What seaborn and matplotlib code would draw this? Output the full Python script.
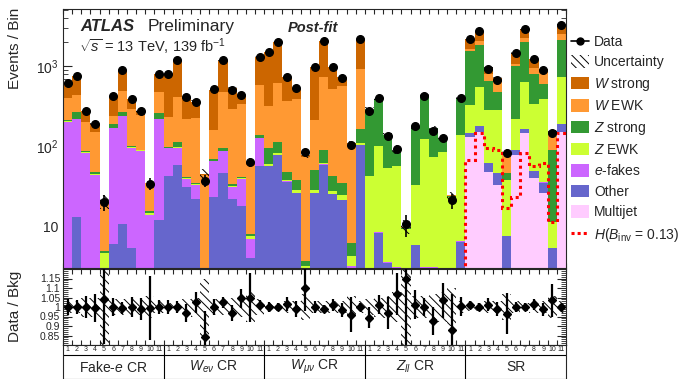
import numpy as np
import matplotlib
matplotlib.use("Agg")
import matplotlib.pyplot as plt
import matplotlib.ticker as mticker
from matplotlib.patches import Patch
from matplotlib.lines import Line2D
import seaborn as sns

# ---- data (11 bins per region) ----
regions = ["Fake-$e$ CR", r"$W_{e\nu}$ CR", r"$W_{\mu\nu}$ CR", r"$Z_{ll}$ CR", "SR"]
bin_labels = [str(i) for i in range(1, 12)] * 5

multijet = [0] * 44 + [132, 152, 48, 33, 0.5, 78, 145, 40, 26, 0.3, 152]
other = [2, 13, 3, 2.5, 0.5, 6, 10.7, 5.3, 3, 1, 12,
         43, 59, 31, 22, 0.5, 23, 46, 22, 17.7, 4, 56,
         56, 78, 36, 26, 2, 26, 59, 25, 21, 3, 104,
         2, 8.2, 3.5, 3, 1, 5.8, 3, 3, 2, 1, 6.4,
         16, 26, 14, 13.5, 7, 12, 17, 9, 9, 5, 40]
efakes = [200, 206, 80, 41, 0.5, 162, 227, 90, 84, 13, 204,
          52, 37, 8, 11, 0.3, 42, 40, 9, 21, 3, 70,
          0.5, 0.5, 0.3, 0.3, 0.2, 0.3, 0.5, 0.3, 0.3, 0.2, 0.5,
          0.2, 0.2, 0.1, 0.1, 0.1, 0.1, 0.1, 0.1, 0.1, 0.1, 0.2,
          0.2, 0.3, 0.2, 0.2, 0.1, 0.2, 0.3, 0.2, 0.2, 0.1, 0.3]
z_ewk = [2, 2, 1, 2, 3.6, 1, 1.5, 1.5, 1.5, 0.5, 1.5,
         1, 1, 1, 1, 0.3, 1, 1.5, 1, 1.5, 0.5, 2,
         3, 3, 1.5, 2, 1, 2, 2, 2, 3, 1, 4,
         40, 93, 50, 53, 8, 27, 119, 71, 82, 22, 130,
         182, 367, 219, 235, 30, 128, 466, 291, 356, 6, 533]
z_strong = [10, 50, 4, 2.5, 0.3, 22, 27, 5, 1.5, 0.8, 44.5,
            3, 17, 1.5, 0.5, 0.3, 4, 8, 1.5, 1.5, 0.5, 10,
            35, 30, 10, 10, 0.5, 22, 29, 15, 10, 2, 55,
            250, 290, 85, 31, 0.5, 142, 300, 93, 40, 1, 260,
            1220, 1325, 378, 200, 9, 792, 1370, 457, 209, 79, 1425]
w_ewk = [189, 160, 114, 101, 15, 51, 228, 193, 154, 19, 210,
         130, 296, 177, 194, 42, 88, 387, 255, 297, 51, 445,
         223, 510, 323, 346, 70, 160, 650, 476, 525, 100, 773,
         1, 1, 0.5, 0.5, 0.2, 0.5, 0.5, 0.5, 0.5, 0.3, 1,
         80, 180, 138, 146, 33, 50, 260, 166, 235, 52, 380]
w_strong = [218, 315, 74, 38, 0.5, 188, 396, 96, 29, 0.5, 324,
            570, 776, 192, 128, 1.5, 352, 677, 240, 91, 1, 717,
            1180, 1380, 370, 158, 3, 780, 1355, 460, 170, 2, 1264,
            0.5, 0.3, 0.2, 0.2, 0.1, 0.3, 0.3, 0.2, 0.2, 0.1, 0.5,
            570, 730, 166, 77, 4, 410, 640, 257, 100, 8, 770]
data = [611, 746, 276, 187, 20, 430, 892, 391, 273, 34, 796,
        796, 1186, 410, 356, 37, 520, 1186, 510, 443, 64, 1300,
        1500, 2000, 740, 535, 84, 990, 2070, 990, 720, 104, 2200,
        276, 397, 134, 93, 10.7, 178, 423, 156, 128, 21, 400,
        2200, 2780, 935, 680, 82, 1470, 2900, 1220, 900, 145, 3300]
higgs = [0.1] * 44 + [68, 145, 94, 90, 16.8, 23, 82, 56, 62, 11.2, 145]
ratio = [1.0, 1.0, 1.0, 0.995, 1.04, 1.0, 0.995, 1.0, 0.99, 0.995, 1.0,
         1.0, 1.0, 0.97, 1.025, 0.84, 1.0, 1.025, 0.97, 1.045, 1.05, 1.01,
         1.0, 1.0, 1.015, 0.99, 1.10, 1.0, 0.988, 1.012, 0.982, 0.96, 1.0,
         0.944, 1.012, 0.968, 1.067, 1.15, 1.012, 1.0, 0.926, 1.035, 0.877, 1.005,
         1.012, 1.0, 1.012, 0.99, 0.965, 1.0, 1.0, 1.014, 0.988, 1.035, 1.0]
bkg_unc = [0.03, 0.03, 0.05, 0.05, 0.2, 0.04, 0.04, 0.04, 0.04, 0.06, 0.03,
           0.02, 0.02, 0.04, 0.05, 0.15, 0.04, 0.04, 0.05, 0.05, 0.08, 0.04,
           0.02, 0.02, 0.03, 0.03, 0.07, 0.03, 0.03, 0.03, 0.03, 0.06, 0.03,
           0.04, 0.05, 0.06, 0.08, 0.2, 0.06, 0.06, 0.07, 0.08, 0.1, 0.03,
           0.02, 0.02, 0.03, 0.03, 0.07, 0.03, 0.02, 0.03, 0.03, 0.06, 0.03]

# stack order bottom -> top
stack = [("Multijet", multijet, "#ffccff"),
         ("Other", other, "#6666cc"),
         ("$e$-fakes", efakes, "#cc66ff"),
         ("$Z$ EWK", z_ewk, "#ccff33"),
         ("$Z$ strong", z_strong, "#339933"),
         ("$W$ EWK", w_ewk, "#ff9933"),
         ("$W$ strong", w_strong, "#cc6600")]

sns.set_style("ticks")
plt.rcParams["font.family"] = ["Liberation Sans", "DejaVu Sans"]
plt.rcParams["mathtext.fontset"] = "custom"
plt.rcParams["mathtext.rm"] = "Liberation Sans"
plt.rcParams["mathtext.it"] = "Liberation Sans:italic"
plt.rcParams["mathtext.bf"] = "Liberation Sans:bold"
plt.rcParams["hatch.linewidth"] = 0.7

x = np.arange(len(data))
edges = np.arange(len(data) + 1) - 0.5
data = np.array(data, dtype=float)
ratio = np.array(ratio)
bkg_unc = np.array(bkg_unc)

fig = plt.figure(figsize=(6.78, 3.79), dpi=100)
ax = fig.add_axes([63 / 678, 1 - 268 / 379, 503 / 678, 259 / 379])
rax = fig.add_axes([63 / 678, 1 - 345 / 379, 503 / 678, 76 / 379])
lab = fig.add_axes([63 / 678, 1 - 378.5 / 379, 503 / 678, 33.5 / 379])

# stacked histogram: draw cumulative totals, biggest first
cum = np.cumsum(np.array([s[1] for s in stack], dtype=float), axis=0)
for k in range(len(stack) - 1, -1, -1):
    sns.barplot(x=x, y=cum[k], color=stack[k][2], width=1, saturation=1,
                linewidth=0, native_scale=True, errorbar=None, ax=ax)
total = cum[-1]

ax.bar(x, 2 * bkg_unc * total, bottom=total * (1 - bkg_unc), width=1,
       fill=False, hatch="\\\\\\\\", linewidth=0, edgecolor="k", zorder=3)
ax.stairs(higgs, edges, color="red", linestyle=(0, (1, 1.2)), linewidth=2.2,
          baseline=None, zorder=4)
ax.errorbar(x, data, yerr=np.sqrt(data), fmt="o", color="k", ms=5.5,
            elinewidth=1.2, capsize=0, zorder=5)

ax.set_yscale("log")
ax.set_ylim(3, 5200)
ax.set_xlim(-0.5, len(data) - 0.5)
ax.yaxis.set_major_locator(mticker.FixedLocator([10, 100, 1000]))
ax.yaxis.set_major_formatter(mticker.FixedFormatter(["10", "$10^{2}$", "$10^{3}$"]))
ax.yaxis.set_minor_locator(mticker.LogLocator(base=10, subs=np.arange(2, 10)))
ax.yaxis.set_minor_formatter(mticker.NullFormatter())
ax.set_xticks(edges)
ax.set_xticklabels([])
ax.set_xlabel("")
ax.set_ylabel("")
ax.tick_params(axis="both", which="both", direction="in", top=True, right=True, labelsize=10)
ax.tick_params(axis="y", which="major", length=6.5)
ax.tick_params(axis="y", which="minor", length=3.5)
ax.tick_params(axis="x", which="major", length=3.5)

# ratio panel
rax.bar(x, 2 * bkg_unc, bottom=1 - bkg_unc, width=1, fill=False,
        hatch="\\\\\\\\", linewidth=0, edgecolor="k")
rax.errorbar(x, ratio, yerr=ratio / np.sqrt(data), fmt="D", color="k", ms=4.5,
             elinewidth=1.6, capsize=0, zorder=5)
rax.set_xlim(-0.5, len(data) - 0.5)
rax.set_ylim(0.8, 1.2)
rticks = [0.85, 0.9, 0.95, 1.0, 1.05, 1.1, 1.15]
rax.yaxis.set_major_locator(mticker.FixedLocator(rticks))
rax.yaxis.set_major_formatter(mticker.FixedFormatter(["0.85", "0.9", "0.95", "1", "1.05", "1.1", "1.15"]))
rax.yaxis.set_minor_locator(mticker.MultipleLocator(0.01))
rax.set_xticks(edges)
rax.set_xticklabels([])
rax.tick_params(axis="both", which="both", direction="in", top=True, right=True, labelsize=7.5, pad=2)
rax.tick_params(axis="y", which="major", length=6.5)
rax.tick_params(axis="y", which="minor", length=3.5)
rax.tick_params(axis="x", which="major", length=3.5)

# bin numbers and region names
lab.set_xlim(-0.5, len(data) - 0.5)
lab.set_ylim(0, 1)
lab.set_xticks([])
lab.set_yticks([])
lab.axhline(24 / 33.5, color="k", lw=0.8)
for b in [10.5, 21.5, 32.5, 43.5]:
    lab.axvline(b, color="k", lw=0.8)
for i, t in enumerate(bin_labels):
    lab.text(i, 0.86, t, ha="center", va="center", fontsize=5)
for r, name in enumerate(regions):
    lab.text(r * 11 + 5, 0.34, name, ha="center", va="center", fontsize=10)

# labels and annotations
fig.text(0.022, 1 - 8 / 379, "Events / Bin", rotation=90, ha="center", va="top", fontsize=11)
fig.text(0.022, 1 - 306 / 379, "Data / Bkg", rotation=90, ha="center", va="center", fontsize=11)
fig.text(80 / 678, 1 - 31 / 379, "ATLAS", fontsize=12, fontweight="bold", fontstyle="italic")
fig.text(148 / 678, 1 - 31 / 379, "Preliminary", fontsize=12.5)
fig.text(79 / 678, 1 - 52 / 379, r"$\sqrt{s}$ = 13 TeV, 139 fb$^{-1}$", fontsize=10.5)
fig.text(288 / 678, 1 - 32 / 379, "Post-fit", fontsize=10.5, fontweight="bold", fontstyle="italic")

handles = [Line2D([0], [0], color="k", marker="o", ms=5, lw=1.2),
           Patch(facecolor="white", edgecolor="k", hatch="\\\\\\\\", linewidth=0)]
labels = ["Data", "Uncertainty"]
for name, _, col in stack[::-1]:
    handles.append(Patch(facecolor=col, edgecolor="none"))
    labels.append(name)
handles.append(Line2D([0], [0], color="red", linestyle=(0, (1, 1)), lw=2.2))
labels.append(r"$H(B_{\mathrm{inv}}$ = 0.13)")
fig.legend(handles, labels, loc="upper left", bbox_to_anchor=(571 / 678, 1 - 35 / 379),
           frameon=False, fontsize=10, handlelength=1.3, handleheight=1.0,
           handletextpad=0.35, labelspacing=0.46, borderaxespad=0, borderpad=0)

fig.savefig("out.png", dpi=100)
